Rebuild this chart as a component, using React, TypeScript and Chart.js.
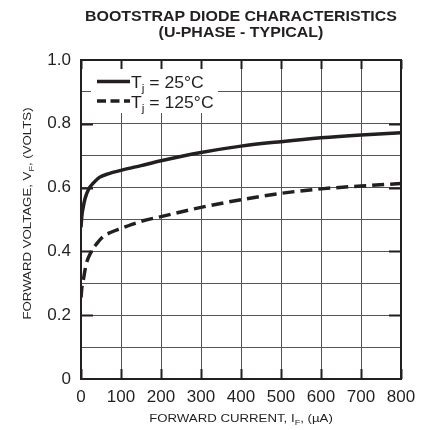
import React, { useEffect, useRef } from "react";
import { Chart, registerables } from "chart.js";

Chart.register(...registerables);

// ---- Data ----
const currents25 = [0, 2, 5, 10, 20, 30, 46, 70, 100, 150, 200, 300, 400, 500, 600, 700, 800];
const volts25 = [0.475, 0.51, 0.535, 0.565, 0.597, 0.613, 0.632, 0.644, 0.654, 0.669, 0.684, 0.71, 0.73, 0.744, 0.756, 0.765, 0.772];

const currents125 = [0, 2, 5, 13, 26, 40, 55, 75, 100, 150, 200, 300, 400, 500, 600, 700, 800];
const volts125 = [0.255, 0.285, 0.305, 0.36, 0.4, 0.425, 0.446, 0.46, 0.472, 0.494, 0.509, 0.538, 0.562, 0.582, 0.596, 0.605, 0.613];

const xTickValues = [0, 100, 200, 300, 400, 500, 600, 700, 800];
const yGridValues = [0, 0.1, 0.2, 0.3, 0.4, 0.5, 0.6, 0.7, 0.8, 0.9, 1.0];
const yTickLabels = ["0", "", "0.2", "", "0.4", "", "0.6", "", "0.8", "", "1.0"];
const yMajorValues = [0.2, 0.4, 0.6, 0.8];

const titleLines = ["BOOTSTRAP DIODE CHARACTERISTICS", "(U-PHASE - TYPICAL)"];
const seriesLabels = ["25°C", "125°C"];

const FAMILY = '"Liberation Sans", Arial, Helvetica, sans-serif';
const INK = "#231f20";

type Run = { t: string; size: number; dy?: number; bold?: boolean };

function drawRuns(
  ctx: CanvasRenderingContext2D,
  runs: Run[],
  x: number,
  y: number,
  align: "left" | "center",
  stretch: number,
  rotation = 0
) {
  let total = 0;
  const widths = runs.map((r) => {
    ctx.font = `${r.bold ? "bold " : ""}${r.size}px ${FAMILY}`;
    const w = ctx.measureText(r.t).width;
    total += w;
    return w;
  });
  ctx.save();
  ctx.translate(x, y);
  if (rotation) ctx.rotate(rotation);
  ctx.scale(stretch, 1);
  ctx.fillStyle = INK;
  ctx.textAlign = "left";
  ctx.textBaseline = "alphabetic";
  let cx = align === "center" ? -total / 2 : 0;
  runs.forEach((r, i) => {
    ctx.font = `${r.bold ? "bold " : ""}${r.size}px ${FAMILY}`;
    ctx.fillText(r.t, cx, r.dy || 0);
    cx += widths[i];
  });
  ctx.restore();
}

const overlayPlugin = {
  id: "overlay",
  afterDraw(chart: any) {
    const ctx: CanvasRenderingContext2D = chart.ctx;
    const { left, right, top, bottom } = chart.chartArea;
    const xs = chart.scales.x;
    const ys = chart.scales.y;
    const midX = (left + right) / 2;

    ctx.save();

    // Legend box (covers grid)
    ctx.fillStyle = "#ffffff";
    ctx.fillRect(left + 10, top + 1, 127, 52);

    // Legend samples
    ctx.strokeStyle = INK;
    ctx.lineWidth = 3.5;
    ctx.lineCap = "butt";
    ctx.setLineDash([]);
    ctx.beginPath();
    ctx.moveTo(left + 16, top + 21.5);
    ctx.lineTo(left + 49, top + 21.5);
    ctx.stroke();
    ctx.setLineDash([9, 4.5]);
    ctx.beginPath();
    ctx.moveTo(left + 16, top + 41);
    ctx.lineTo(left + 49, top + 41);
    ctx.stroke();
    ctx.setLineDash([]);

    drawRuns(
      ctx,
      [
        { t: "T", size: 16 },
        { t: "j", size: 11, dy: 4 },
        { t: " = " + seriesLabels[0], size: 16 },
      ],
      left + 50,
      top + 28,
      "left",
      1.1
    );
    drawRuns(
      ctx,
      [
        { t: "T", size: 16 },
        { t: "j", size: 11, dy: 4 },
        { t: " = " + seriesLabels[1], size: 16 },
      ],
      left + 50,
      top + 47.5,
      "left",
      1.1
    );

    // Frame
    ctx.strokeStyle = INK;
    ctx.lineWidth = 2;
    ctx.strokeRect(left, top, right - left, bottom - top);

    // Inside tick marks
    ctx.lineWidth = 2;
    ctx.beginPath();
    yMajorValues.forEach((v) => {
      const py = Math.round(ys.getPixelForValue(v)) + 0.5;
      ctx.moveTo(left, py);
      ctx.lineTo(left + 12, py);
      ctx.moveTo(right - 12, py);
      ctx.lineTo(right, py);
    });
    xTickValues.forEach((v) => {
      const px = Math.round(xs.getPixelForValue(v)) + 0.5;
      ctx.moveTo(px, bottom);
      ctx.lineTo(px, bottom - 10);
      ctx.moveTo(px, top);
      ctx.lineTo(px, top + 9);
    });
    ctx.stroke();

    // Title
    drawRuns(ctx, [{ t: titleLines[0], size: 14.5, bold: true }], midX, 20.5, "center", 1.1);
    drawRuns(ctx, [{ t: titleLines[1], size: 14.5, bold: true }], midX, 36.5, "center", 1.1);

    // X axis title
    drawRuns(
      ctx,
      [
        { t: "FORWARD CURRENT, I", size: 11.5 },
        { t: "F", size: 8, dy: 3 },
        { t: ", (µA)", size: 11.5 },
      ],
      midX,
      422,
      "center",
      1.15
    );

    // Y axis title (rotated)
    drawRuns(
      ctx,
      [
        { t: "FORWARD VOLTAGE, V", size: 11.5 },
        { t: "F", size: 8, dy: 3 },
        { t: ", (VOLTS)", size: 11.5 },
      ],
      30.5,
      (top + bottom) / 2 - 6,
      "center",
      1.15,
      -Math.PI / 2
    );

    ctx.restore();
  },
};

export default function App() {
  const canvasRef = useRef<HTMLCanvasElement | null>(null);

  useEffect(() => {
    const canvas = canvasRef.current;
    if (!canvas) return;
    const chart = new Chart(canvas, {
      type: "line",
      data: {
        datasets: [
          {
            label: "Tj = 25°C",
            data: currents25.map((x, i) => ({ x, y: volts25[i] })),
            borderColor: INK,
            borderWidth: 3.5,
            pointRadius: 0,
            fill: false,
            cubicInterpolationMode: "monotone",
          },
          {
            label: "Tj = 125°C",
            data: currents125.map((x, i) => ({ x, y: volts125[i] })),
            borderColor: INK,
            borderWidth: 3.5,
            borderDash: [12, 6],
            pointRadius: 0,
            fill: false,
            cubicInterpolationMode: "monotone",
          },
        ],
      },
      options: {
        responsive: false,
        animation: false,
        layout: { padding: { top: 60, right: 29, left: 0, bottom: 0 } },
        plugins: {
          legend: { display: false },
          title: { display: false },
          tooltip: { enabled: false },
        },
        scales: {
          x: {
            type: "linear",
            min: 0,
            max: 800,
            afterFit: (s: any) => {
              s.height = 51;
            },
            afterBuildTicks: (s: any) => {
              s.ticks = xTickValues.map((v) => ({ value: v }));
            },
            ticks: {
              color: INK,
              font: { family: FAMILY, size: 17 },
              padding: 8,
              maxRotation: 0,
              autoSkip: false,
            },
            grid: { color: "#555", lineWidth: 1, drawTicks: false },
            border: { display: false },
          },
          y: {
            type: "linear",
            min: 0,
            max: 1,
            afterFit: (s: any) => {
              s.width = 81;
            },
            afterBuildTicks: (s: any) => {
              s.ticks = yGridValues.map((v) => ({ value: v }));
            },
            ticks: {
              color: INK,
              font: { family: FAMILY, size: 17 },
              padding: 10,
              autoSkip: false,
              callback: (_v: any, i: number) => yTickLabels[i],
            },
            grid: { color: "#555", lineWidth: 1, drawTicks: false },
            border: { display: false },
          },
        },
      },
      plugins: [overlayPlugin],
    } as any);
    return () => chart.destroy();
  }, []);

  return (
    <div style={{ position: "absolute", left: 0, top: 0, width: 430, height: 430, background: "#fff" }}>
      <canvas ref={canvasRef} width={430} height={430} style={{ width: 430, height: 430 }} />
    </div>
  );
}
